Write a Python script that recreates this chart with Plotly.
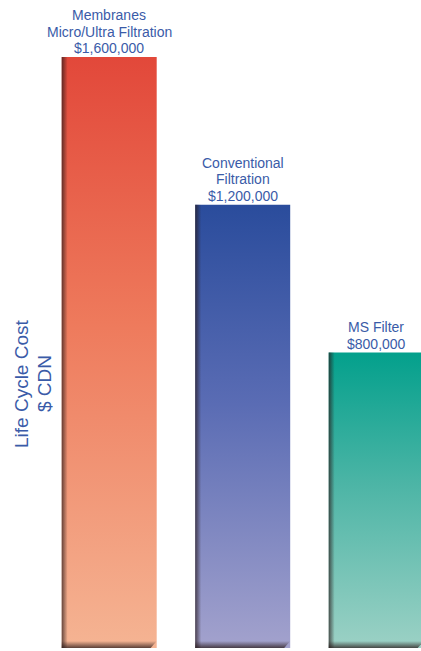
import plotly.graph_objects as go

# ---- data ----
categories = ["Membranes<br>Micro/Ultra Filtration", "Conventional<br>Filtration", "MS Filter"]
label_lines = [["Membranes", "Micro/Ultra Filtration", "$1,600,000"],
               ["Conventional", "Filtration", "$1,200,000"],
               ["MS Filter", "$800,000"]]
costs = [1600000, 1200000, 800000]
top_colors = ["#E2483A", "#2A4C9C", "#03A08C"]
mid_colors = ["#EE7A5C", "#5A6CB4", "#4DB5A6"]
bottom_colors = ["#F5B493", "#A3A2CD", "#9CD1C5"]
y_title_lines = ["Life Cycle Cost", "$ CDN"]

W, H = 421, 651
TEXT_BLUE = "#3A5BA8"

# pixel geometry helpers (axis scales)
px_per_x = 133.5
x0_px = 109.2
xr = [-x0_px / px_per_x, (W - x0_px) / px_per_x]
base_px = 648
top_px = 57
px_per_y = (base_px - top_px) / max(costs)
yr = [-(H - base_px) / px_per_y, max(costs) + top_px / px_per_y]

bar_w = 95 / px_per_x
sx = 6 / px_per_x      # left shadow width
sy = 7 / px_per_y      # bottom shadow height

fig = go.Figure()
xs = list(range(len(costs)))
for i, v in enumerate(costs):
    c = xs[i]
    l, r = c - bar_w / 2, c + bar_w / 2
    fig.add_trace(go.Scatter(
        x=[l, r, r, l, l], y=[0, 0, v, v, 0], mode="lines", line=dict(width=0),
        fill="toself",
        fillgradient=dict(type="vertical", start=0, stop=v,
                          colorscale=[[0, bottom_colors[i]], [0.55, mid_colors[i]], [1, top_colors[i]]]),
        hoverinfo="skip", showlegend=False))
    # left shadow
    fig.add_trace(go.Scatter(
        x=[l, l + sx, l + sx, l, l], y=[0, 0, v, v, 0], mode="lines", line=dict(width=0),
        fill="toself",
        fillgradient=dict(type="horizontal", start=l, stop=l + sx,
                          colorscale=[[0, "rgba(40,25,25,0.7)"], [1, "rgba(40,25,25,0)"]]),
        hoverinfo="skip", showlegend=False))
    # bottom shadow
    fig.add_trace(go.Scatter(
        x=[l, r - sx, r, l, l], y=[0, 0, sy, sy, 0], mode="lines", line=dict(width=0),
        fill="toself",
        fillgradient=dict(type="vertical", start=0, stop=sy,
                          colorscale=[[0, "rgba(40,25,25,0.75)"], [1, "rgba(40,25,25,0)"]]),
        hoverinfo="skip", showlegend=False))

annotations = []
for i, v in enumerate(costs):
    lines = label_lines[i]
    n = len(lines)
    for k, t in enumerate(lines):
        annotations.append(dict(
            x=xs[i], y=v, xref="x", yref="y", text=t, showarrow=False,
            xanchor="center", yanchor="bottom",
            yshift=-1 + 16.5 * (n - 1 - k),
            font=dict(family="Liberation Sans, Arial", size=14, color=TEXT_BLUE)))

annotations.append(dict(x=21 / W, y=1 - 384 / H, xref="paper", yref="paper",
                        text=y_title_lines[0], textangle=-90, showarrow=False,
                        xanchor="center", yanchor="middle",
                        font=dict(family="Liberation Sans, Arial", size=19, color=TEXT_BLUE)))
annotations.append(dict(x=44 / W, y=1 - 384 / H, xref="paper", yref="paper",
                        text=y_title_lines[1], textangle=-90, showarrow=False,
                        xanchor="center", yanchor="middle",
                        font=dict(family="Liberation Sans, Arial", size=19, color=TEXT_BLUE)))

fig.update_layout(
    width=W, height=H, margin=dict(l=0, r=0, t=0, b=0),
    paper_bgcolor="white", plot_bgcolor="white",
    xaxis=dict(range=xr, visible=False, fixedrange=True),
    yaxis=dict(range=yr, visible=False, fixedrange=True),
    annotations=annotations, showlegend=False)

fig.write_html("out.html", config={"displayModeBar": False},
               post_script="document.body.style.margin='0px';document.body.style.overflow='hidden';")
